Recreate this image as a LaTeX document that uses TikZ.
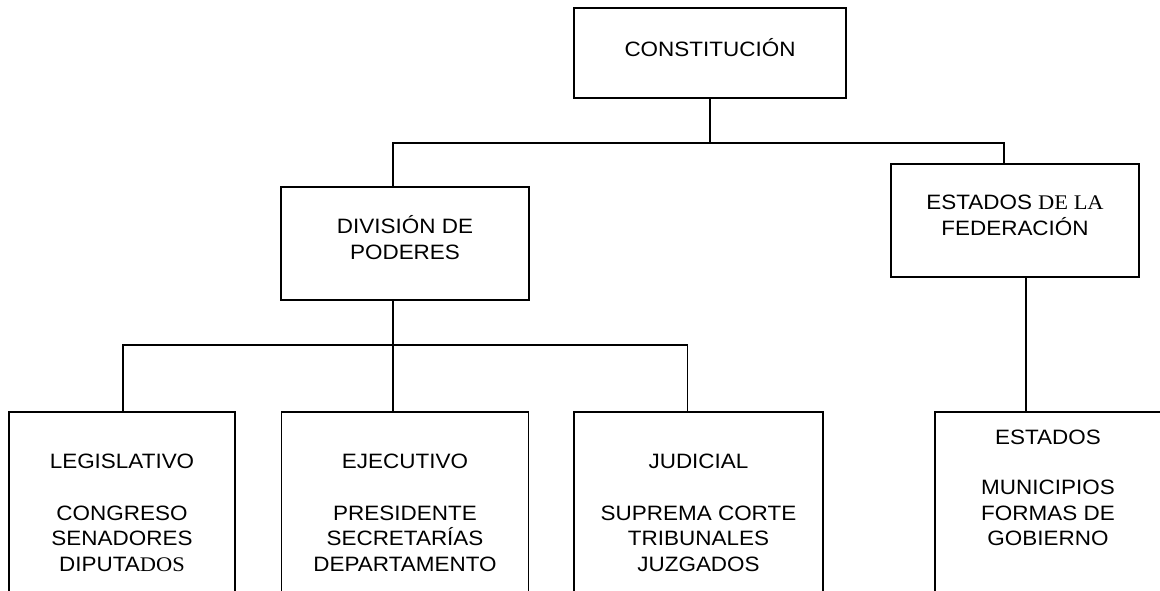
\documentclass[tikz,border=0pt]{standalone}
\usepackage{fontspec}
\setmainfont{Liberation Sans}[FakeStretch=1.08]
\newfontfamily\timesfam{Liberation Serif}[FakeStretch=1.08]
\tikzset{
  orgbox/.style={draw, align=center, inner sep=0pt, font=\fontsize{20.8}{25.5}\selectfont},
  topbox/.style={orgbox, minimum width=272pt, minimum height=90pt},
  midbox/.style={orgbox, minimum width=248pt, minimum height=113pt},
  lowbox/.style={orgbox, anchor=north, minimum height=300pt},
  elbow/.style n args={3}{edge from parent path={([xshift=#1]\tikzparentnode.south) -- ++(0,-#2) -| ([xshift=#3]\tikzchildnode.north)}}
}
\begin{document}
\begin{tikzpicture}[x=1pt, y=1pt, line width=1.5pt,
  level 1/.style={sibling distance=610pt},
  level 2/.style={sibling distance=288pt}]
  \useasboundingbox (0,0) rectangle (1160,-590);
  \clip (0,0) rectangle (1160,-590);
  \node[topbox, text height=7.4pt, text depth=0pt] (const) at (710,-53) {CONSTITUCIÓN}
    child[level distance=190.5pt, elbow={0pt}{44}{-12pt}] {
      node[midbox, text height=31pt, text depth=0pt] (div) {DIVISIÓN DE\\PODERES}
        child[level distance=167.5pt, elbow={-12pt}{44}{1pt}] {
          node[lowbox, minimum width=226pt, xshift=5pt, text height=18.6pt, text depth=0pt] (leg)
            {LEGISLATIVO\\[26pt]CONGRESO\\SENADORES\\DIPUTA{\timesfam DOS}}
        }
        child[level distance=167.5pt, elbow={-12pt}{44}{-12pt}] {
          node[lowbox, minimum width=247pt, text height=18.6pt, text depth=0pt] (eje)
            {EJECUTIVO\\[26pt]PRESIDENTE\\SECRETARÍAS\\DEPARTAMENTO}
        }
        child[level distance=167.5pt, elbow={-12pt}{44}{-11pt}] {
          node[lowbox, minimum width=249pt, xshift=5.5pt, text height=18.6pt, text depth=0pt] (jud)
            {JUDICIAL\\[26pt]SUPREMA CORTE\\TRIBUNALES\\JUZGADOS}
        }
    }
    child[level distance=167.5pt, elbow={0pt}{44}{-11pt}] {
      node[midbox, text height=29pt, text depth=0pt] (fed) {ESTADOS {\timesfam DE LA}\\FEDERACIÓN}
        child[level distance=190.5pt, elbow={11pt}{0}{-22pt}] {
          node[lowbox, minimum width=226pt, xshift=33pt, text height=0pt, text depth=32pt] (est)
            {ESTADOS\\[25pt]MUNICIPIOS\\FORMAS DE\\GOBIERNO}
        }
    };
\end{tikzpicture}
\end{document}
